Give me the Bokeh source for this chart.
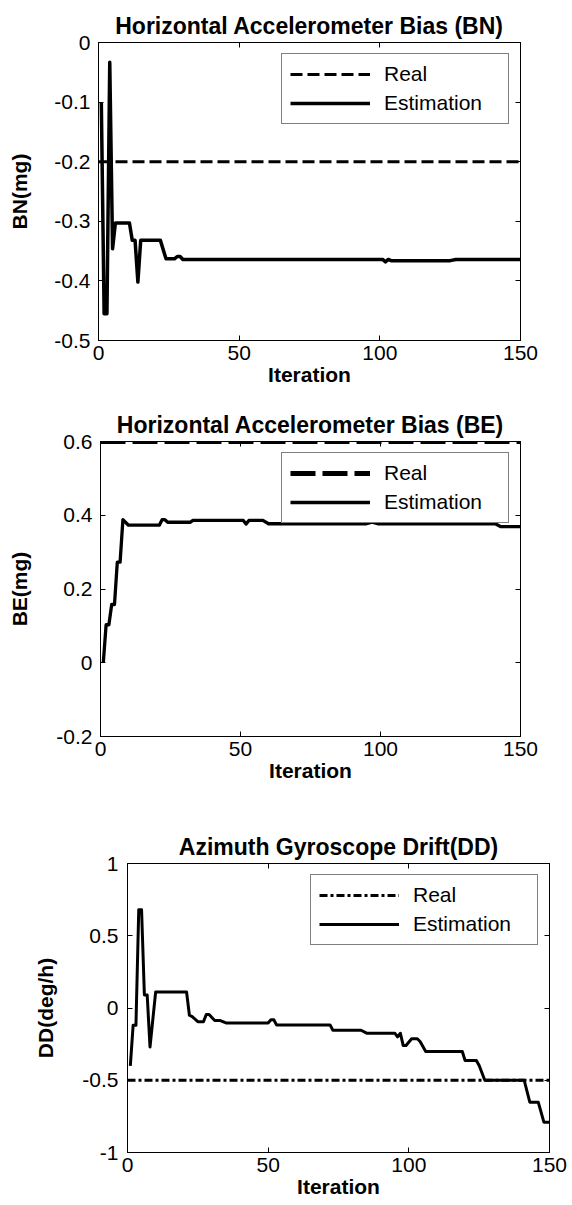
from bokeh.plotting import figure
from bokeh.layouts import column
from bokeh.models import FixedTicker, LinearAxis, Range1d, Legend, LegendItem, CustomJSTickFormatter
from bokeh.embed import file_html
from bokeh.resources import INLINE

# ---------------- data ----------------
x_range_vals = [0, 150]
x_ticks = [0, 50, 100, 150]
x_tick_labels = ["0", "50", "100", "150"]

# Panel 1: Horizontal Accelerometer Bias (BN)
bn_iter = [1, 2, 3, 4, 5, 6, 11, 12, 13, 14, 15, 22, 24, 27, 28, 29, 30, 101, 102, 103, 104, 125, 127, 150]
bn_est = [-0.10, -0.455, -0.455, -0.033, -0.346, -0.303, -0.303, -0.332, -0.332, -0.402, -0.332, -0.332,
          -0.363, -0.363, -0.359, -0.359, -0.364, -0.364, -0.368, -0.364, -0.366, -0.366, -0.364, -0.364]
bn_real = -0.2
bn_yticks = [-0.5, -0.4, -0.3, -0.2, -0.1, 0.0]
bn_ytick_labels = ["-0.5", "-0.4", "-0.3", "-0.2", "-0.1", "0"]

# Panel 2: Horizontal Accelerometer Bias (BE)
be_iter = [1, 2, 3, 4, 5, 6, 7, 8, 10, 21, 22, 23, 24, 32, 33, 51, 52, 53, 58, 60, 95, 97, 99, 141, 143, 150]
be_est = [0.0, 0.103, 0.103, 0.158, 0.158, 0.273, 0.273, 0.388, 0.373, 0.373, 0.388, 0.388, 0.381,
          0.381, 0.386, 0.386, 0.376, 0.386, 0.386, 0.377, 0.377, 0.381, 0.377, 0.377, 0.369, 0.369]
be_real = 0.6
be_yticks = [-0.2, 0.0, 0.2, 0.4, 0.6]
be_ytick_labels = ["-0.2", "0", "0.2", "0.4", "0.6"]

# Panel 3: Azimuth Gyroscope Drift (DD)
dd_iter = [1, 2, 3, 4, 5, 6, 7, 8, 10, 21, 22, 23, 25, 27, 28, 29, 31, 33, 35, 50, 51, 52, 53, 72, 73,
           83, 85, 95, 96, 97, 98, 99, 101, 103, 104, 106, 119, 120, 124, 125, 127, 141, 143, 146, 148, 150]
dd_est = [-0.40, -0.12, -0.12, 0.68, 0.68, 0.09, 0.09, -0.27, 0.11, 0.11, -0.05, -0.06, -0.095, -0.095,
          -0.045, -0.045, -0.087, -0.087, -0.103, -0.103, -0.082, -0.082, -0.117, -0.117, -0.154,
          -0.154, -0.174, -0.174, -0.20, -0.175, -0.26, -0.26, -0.213, -0.213, -0.232, -0.301, -0.301,
          -0.363, -0.363, -0.398, -0.50, -0.50, -0.652, -0.652, -0.79, -0.79]
dd_real = -0.5
dd_yticks = [-1.0, -0.5, 0.0, 0.5, 1.0]
dd_ytick_labels = ["-1", "-0.5", "0", "0.5", "1"]

FONT = "Liberation Sans"
EMPTY = CustomJSTickFormatter(code="return ''")


def make_panel(title, ylabel, yr, yticks, ytick_labels, est_x, est_y, real_val,
               real_dash, real_width, est_width, size, borders, ylabel_standoff, ytick_standoff):
    width, height = size
    bl, br, bt, bb = borders
    p = figure(width=width, height=height, output_backend="svg", toolbar_location=None,
               x_range=Range1d(*x_range_vals), y_range=Range1d(*yr),
               min_border_left=bl, min_border_right=br, min_border_top=bt, min_border_bottom=bb,
               background_fill_color="white", border_fill_color="white")
    p.frame_align = False
    p.title.text = title
    p.title.align = "center"
    p.title.text_font = FONT
    p.title.text_font_size = "23px"
    p.title.text_font_style = "bold"
    p.title.text_color = "black"
    p.title.standoff = 8
    p.xgrid.visible = False
    p.ygrid.visible = False
    p.outline_line_color = "black"
    p.outline_line_width = 1
    p.outline_line_alpha = 1

    # bottom axis
    xa = p.xaxis[0]
    xa.ticker = FixedTicker(ticks=x_ticks)
    xa.major_label_overrides = {float(t): l for t, l in zip(x_ticks, x_tick_labels)}
    xa.axis_label = "Iteration"
    # left axis
    ya = p.yaxis[0]
    ya.ticker = FixedTicker(ticks=yticks)
    ya.major_label_overrides = {float(t): l for t, l in zip(yticks, ytick_labels)}
    ya.axis_label = ylabel
    for ax in (xa, ya):
        ax.minor_tick_line_color = None
        ax.major_tick_in = 5
        ax.major_tick_out = 0
        ax.major_tick_line_color = "black"
        ax.axis_line_color = "black"
        ax.major_label_text_font = FONT
        ax.major_label_text_font_size = "21px"
        ax.major_label_text_color = "black"
        ax.axis_label_text_font = FONT
        ax.axis_label_text_font_size = "21px"
        ax.axis_label_text_font_style = "bold"
        ax.axis_label_text_color = "black"
    xa.major_label_standoff = 5
    xa.axis_label_standoff = 0
    ya.major_label_standoff = ytick_standoff
    ya.axis_label_standoff = ylabel_standoff

    # mirrored tick axes (box)
    for loc, tk in (("right", yticks), ("above", x_ticks)):
        ax = LinearAxis(ticker=FixedTicker(ticks=tk), formatter=EMPTY,
                        major_label_text_font_size="0px", major_label_standoff=0,
                        minor_tick_line_color=None, major_tick_in=5, major_tick_out=0,
                        major_tick_line_color="black", axis_line_color="black")
        p.add_layout(ax, loc)

    r_real = p.line(x=x_range_vals, y=[real_val, real_val], line_color="black",
                    line_width=real_width, line_dash=real_dash)
    r_est = p.line(x=est_x, y=est_y, line_color="black", line_width=est_width,
                   line_join="round")

    legend = Legend(items=[LegendItem(label="Real", renderers=[r_real]),
                           LegendItem(label="Estimation", renderers=[r_est])],
                    location="top_right", margin=11, padding=8, spacing=5,
                    glyph_width=80, glyph_height=20, label_height=20, label_width=116,
                    label_standoff=14, label_text_font=FONT, label_text_font_size="21px",
                    label_text_color="black", border_line_color="black", border_line_width=1,
                    background_fill_color="white", background_fill_alpha=1)
    p.add_layout(legend, "center")
    return p


p1 = make_panel("Horizontal Accelerometer Bias (BN)", "BN(mg)", (-0.5, 0.0), bn_yticks, bn_ytick_labels,
                bn_iter, bn_est, bn_real, "12 5", 3, 3.5,
                (572, 400), (98, 52, 42, 60), 20, 8)
p2 = make_panel("Horizontal Accelerometer Bias (BE)", "BE(mg)", (-0.2, 0.6), be_yticks, be_ytick_labels,
                be_iter, be_est, be_real, "25 7", 5, 3.3,
                (572, 400), (100, 52, 41, 64), 22, 8)
p3 = make_panel("Azimuth Gyroscope Drift(DD)", "DD(deg/h)", (-1.0, 1.0), dd_yticks, dd_ytick_labels,
                dd_iter, dd_est, dd_real, "8 3 3 3", 3, 3,
                (572, 405), (127, 23, 63, 53), 22, 9)

layout = column(p1, p2, p3, spacing=0)
open("out.html", "w").write(file_html(layout, INLINE))
